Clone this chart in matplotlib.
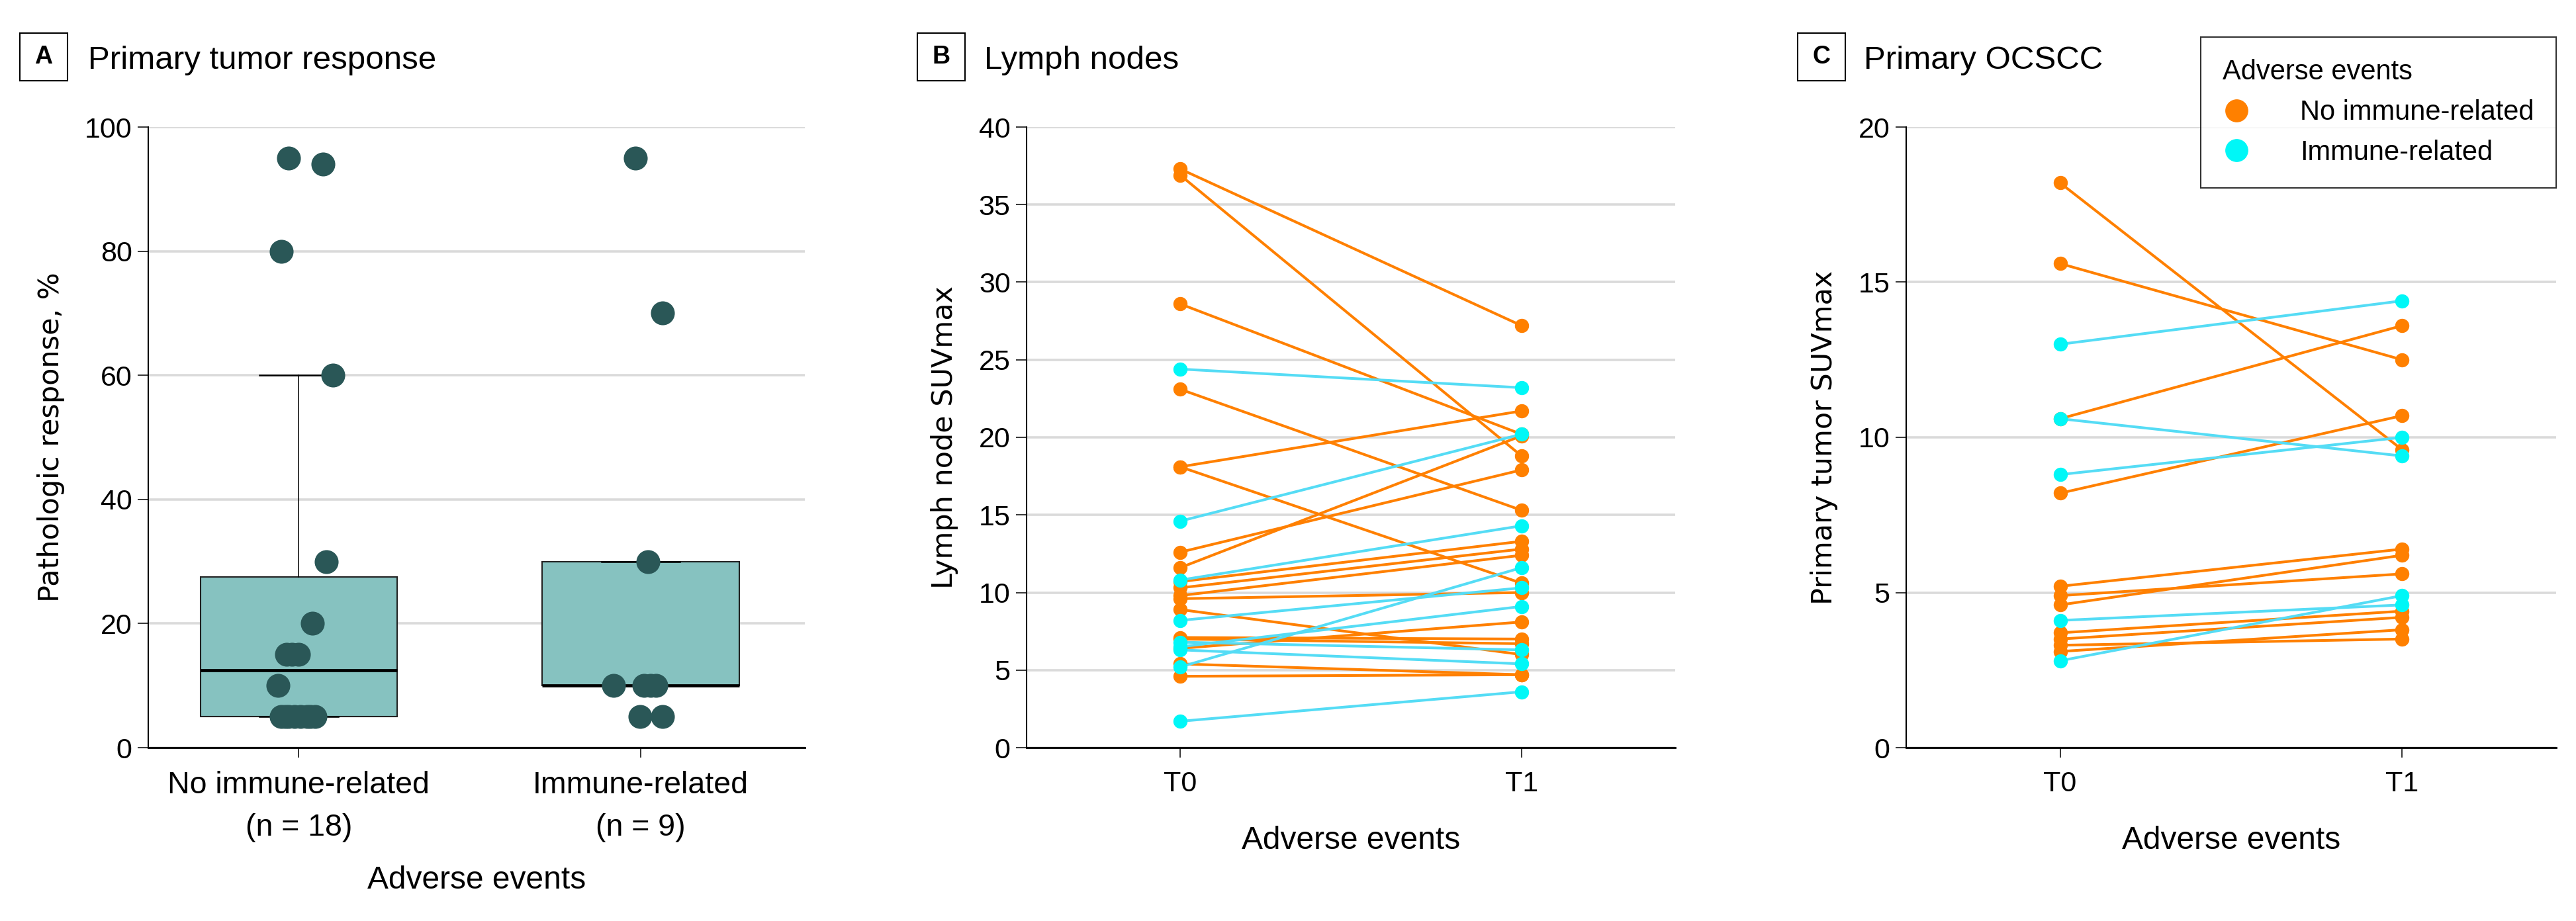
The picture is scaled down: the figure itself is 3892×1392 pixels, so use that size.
import matplotlib
matplotlib.use("Agg")
import matplotlib.pyplot as plt
from matplotlib.lines import Line2D
from matplotlib.patches import Rectangle

plt.rcParams['font.family'] = ['Liberation Sans', 'DejaVu Sans']

# Panel A: pathologic response (%) by adverse event group
groups = ["No immune-related\n(n = 18)", "Immune-related\n(n = 9)"]
resp_no = [95, 94, 80, 60, 30, 20, 15, 15, 15, 10, 5, 5, 5, 5, 5, 5, 5, 5]
resp_no_jit = [-0.03, 0.07, -0.05, 0.10, 0.08, 0.04, -0.035, 0.0, -0.02, -0.06,
               -0.05, -0.03, -0.012, 0.005, 0.025, 0.035, 0.048, -0.04]
resp_ir = [95, 70, 30, 10, 10, 10, 10, 5, 5]
resp_ir_jit = [-0.015, 0.064, 0.021, -0.079, 0.009, 0.044, 0.029, -0.002, 0.064]

# Panel B: lymph node SUVmax at T0 and T1
ln_no_t0 = [37.3, 36.9, 28.6, 23.1, 18.1, 18.1, 12.6, 11.6, 10.7, 10.3, 9.8, 9.6, 8.9, 7.1, 7.0, 6.4, 5.4, 4.6]
ln_no_t1 = [27.2, 18.8, 20.2, 15.3, 21.7, 10.6, 17.9, 20.1, 13.3, 12.8, 12.4, 10.0, 6.0, 7.0, 6.7, 8.1, 4.7, 4.7]
ln_ir_t0 = [24.4, 14.6, 10.8, 8.2, 5.2, 6.5, 6.8, 6.3, 1.7]
ln_ir_t1 = [23.2, 20.2, 14.3, 10.3, 11.6, 9.1, 6.3, 5.4, 3.6]

# Panel C: primary OCSCC SUVmax at T0 and T1
pt_no_t0 = [18.2, 15.6, 10.6, 8.2, 5.2, 4.6, 4.9, 3.7, 3.5, 3.3, 3.1]
pt_no_t1 = [9.6, 12.5, 13.6, 10.7, 6.4, 6.2, 5.6, 4.4, 4.2, 3.5, 3.8]
pt_ir_t0 = [13.0, 10.6, 8.8, 4.1, 2.8]
pt_ir_t1 = [14.4, 9.4, 10.0, 4.6, 4.9]

timepoints = ["T0", "T1"]

box_face = '#86C2C0'
dot_dark = '#2A5757'
orange = '#FF8000'
cyan_dot = '#00F7F7'
cyan_line = '#55DCF5'
grid_col = '#DADADA'

W, H = 3892, 1392
fig = plt.figure(figsize=(W / 100, H / 100), dpi=100)


def make_axes(left, right):
    return fig.add_axes([left / W, 1 - 1130 / H, (right - left) / W, 938 / H])


def style(ax):
    for s in ['top', 'right']:
        ax.spines[s].set_visible(False)
    ax.spines['left'].set_linewidth(1.5)
    ax.spines['bottom'].set_linewidth(2)
    ax.yaxis.grid(True, color=grid_col, lw=2.6)
    ax.set_axisbelow(True)
    ax.tick_params(axis='y', length=11.5, width=1.1, pad=6, labelsize=31)
    ax.tick_params(axis='x', length=11, width=1.1, pad=14, labelsize=31)


# ---- panel A
axA = make_axes(224, 1216)
style(axA)
bp = axA.boxplot([resp_no, resp_ir], positions=[1, 2], widths=0.575, patch_artist=True,
                 showfliers=False, capwidths=0.23,
                 medianprops=dict(color='black', lw=3.4),
                 boxprops=dict(facecolor=box_face, edgecolor='#222222', lw=1.5),
                 whiskerprops=dict(color='black', lw=1.1),
                 capprops=dict(color='black', lw=1.8))
# the reference shows no lower whisker for the immune-related group
bp['whiskers'][2].set_visible(False)
bp['caps'][2].set_visible(False)
axA.scatter([1 + j for j in resp_no_jit], resp_no, s=676, color=dot_dark, lw=0, zorder=3)
axA.scatter([2 + j for j in resp_ir_jit], resp_ir, s=676, color=dot_dark, lw=0, zorder=3)
axA.set_xlim(0.56, 2.48)
axA.set_ylim(0, 100)
axA.set_yticks(range(0, 101, 20))
axA.set_xticks([1, 2], groups, fontsize=33.5, linespacing=1.6)
axA.set_xlabel('Adverse events', fontsize=34.5, labelpad=25)
axA.set_ylabel('Pathologic response, %', fontfamily='DejaVu Sans', fontsize=31, labelpad=22)


# ---- panels B and C
def paired(ax, no_t0, no_t1, ir_t0, ir_t1):
    for a, b in zip(no_t0, no_t1):
        ax.plot([0, 1], [a, b], color=orange, lw=2.9, marker='o', ms=14.4,
                mfc=orange, mec=orange, zorder=3)
    for a, b in zip(ir_t0, ir_t1):
        ax.plot([0, 1], [a, b], color=cyan_line, lw=2.9, marker='o', ms=14.4,
                mfc=cyan_dot, mec=cyan_dot, zorder=3)
    ax.set_xlim(-0.45, 1.45)
    ax.set_xticks([0, 1], timepoints)
    ax.set_xlabel('Adverse events', fontsize=34.5, labelpad=31)


axB = make_axes(1551, 2531)
style(axB)
paired(axB, ln_no_t0, ln_no_t1, ln_ir_t0, ln_ir_t1)
axB.set_ylim(0, 40)
axB.set_yticks(range(0, 41, 5))
axB.set_ylabel('Lymph node SUVmax', fontfamily='DejaVu Sans', fontsize=31, labelpad=22)

axC = make_axes(2880, 3862)
style(axC)
paired(axC, pt_no_t0, pt_no_t1, pt_ir_t0, pt_ir_t1)
axC.set_ylim(0, 20)
axC.set_yticks(range(0, 21, 5))
axC.set_ylabel('Primary tumor SUVmax', fontfamily='DejaVu Sans', fontsize=31, labelpad=22)

# panel letters and titles
for letter, bx, title, tx in [('A', 30, 'Primary tumor response', 133),
                              ('B', 1386, 'Lymph nodes', 1487),
                              ('C', 2716, 'Primary OCSCC', 2816)]:
    fig.add_artist(Rectangle((bx / W, 1 - 122 / H), 72 / W, 72 / H, transform=fig.transFigure,
                             fill=False, ec='black', lw=1.5))
    fig.text((bx + 36) / W, 1 - 86 / H, letter, ha='center', va='center',
             fontsize=27, fontweight='bold')
    fig.text(tx / W, 1 - 104 / H, title, ha='left', va='baseline', fontsize=35.5)

# legend
handles = [Line2D([], [], ls='none', marker='o', ms=24, color=orange, label='No immune-related'),
           Line2D([], [], ls='none', marker='o', ms=24, color=cyan_dot, label='Immune-related')]
leg = fig.legend(handles=handles, title='Adverse events', loc='upper right',
                 bbox_to_anchor=(3862 / W, 1 - 56 / H), frameon=True, fancybox=False,
                 edgecolor='black', fontsize=30, title_fontsize=30, alignment='left',
                 borderpad=0.8, handletextpad=1.8, labelspacing=0.5, handlelength=1.0,
                 borderaxespad=0)
leg.get_frame().set_linewidth(1.5)

fig.savefig('out.png', dpi=100)
